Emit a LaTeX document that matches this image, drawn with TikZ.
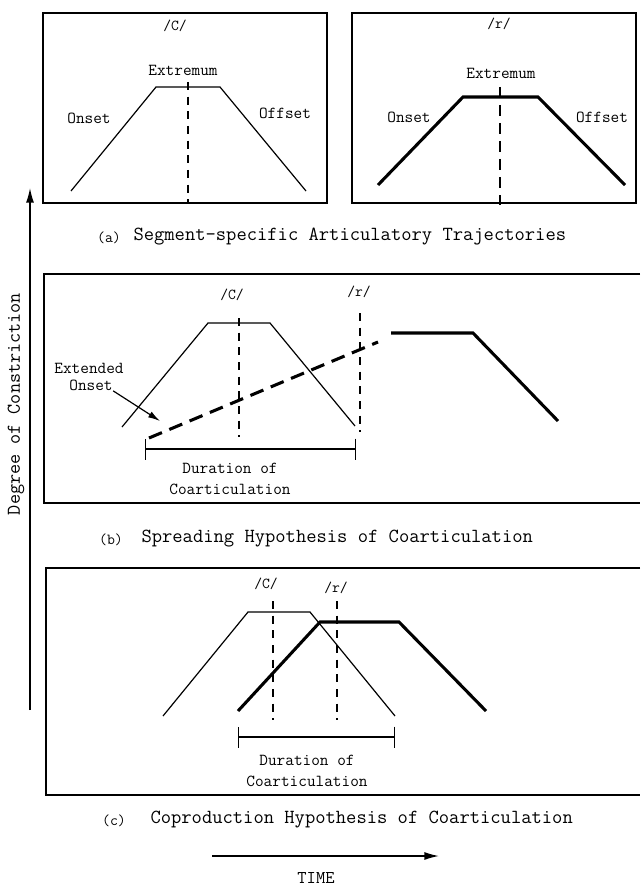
\documentclass[tikz,border=0pt]{standalone}
\usetikzlibrary{arrows.meta}

\tikzset{every picture/.style={line width=0.75pt}}

\begin{document}
\begin{tikzpicture}[x=0.75pt,y=0.75pt,yscale=-1,xscale=1,
    panel/.style={line width=1.1pt},
    trace/.style={line width=0.9pt},
    heavy/.style={line width=2.3pt},
    guide/.style={line width=0.9pt, dash pattern={on 6pt off 5pt}},
    spread/.style={line width=2.3pt, dash pattern={on 10.5pt off 6pt}},
    lab/.style={inner sep=0pt, font=\ttfamily\fontsize{12.6}{12.8}\selectfont},
    seg/.style={inner sep=0pt, font=\ttfamily\fontsize{11.4}{12}\selectfont},
    dur/.style={inner sep=0pt, align=center, font=\ttfamily\fontsize{12.6}{16}\selectfont},
    captext/.style={inner sep=0pt, anchor=west, font=\ttfamily\fontsize{15}{16}\selectfont},
    tag/.style={inner sep=0pt, font=\ttfamily\fontsize{11.5}{12}\selectfont},
    bigarrow/.style={line width=1.1pt, -{Latex[length=11pt,width=6pt]}},
    durspan/.style={trace, {Bar[width=15.75pt]}-{Bar[width=15.75pt]}}]
    \useasboundingbox (0,0) rectangle (640,888);

    %Shape: Rectangle /C/ panel
    \draw [panel] (43,13) rectangle (327,203) ;
    %Shape: Rectangle /r/ panel
    \draw [panel] (352,13) rectangle (636,203) ;
    %Shape: open panel (b)
    \draw [panel] (640,274) -- (44,274) -- (44,503) -- (640,503) ;
    %Shape: open panel (c)
    \draw [panel] (640,568) -- (46,568) -- (46,795) -- (640,795) ;

    %Curve Lines /C/ alone
    \draw [trace] (71,191) -- (156,87) -- (220,87) -- (306,191) ;
    \draw [guide] (188,82) -- (188,202) ;
    %Curve Lines /r/ alone
    \draw [heavy] (378,185) -- (463,97) -- (538,97) -- (625,185) ;
    \draw [guide, dash pattern={on 8.5pt off 5pt}] (500,87) -- (500,205) ;

    % Text Node
    \node [seg] (segC) at (175,26) {/C/};
    \node [seg] (segR) at (499,24) {/r/};
    \node [lab] (extC) at (183,70) {Extremum};
    \node [lab] (onC) at (89,118) {Onset};
    \node [lab] (offC) at (285,113) {Offset};
    \node [lab] (extR) at (501,73) {Extremum};
    \node [lab] (onR) at (409,117) {Onset};
    \node [lab] (offR) at (602,117) {Offset};
    \node [tag] (tagA) at (109,238) {(a)};
    \node [captext] (capA) at (133,237) {Segment-specific Articulatory Trajectories};

    %Curve Lines spreading
    \draw [trace] (122,427) -- (208,323) -- (270,323) -- (355,426) ;
    \draw [guide] (239,318) -- (239,437) ;
    \draw [guide] (360,313) -- (360,432) ;
    \draw [spread] (149,438) -- (378,342) ;
    \draw [heavy] (391,333) -- (473,333) -- (558,421) ;

    % Text Node
    \node [seg] (segCb) at (232,295) {/C/};
    \node [seg] (segRb) at (359,292) {/r/};
    \node [lab] (extOnA) at (89,368) {Extended};
    \node [lab] (extOnB) at (91,385) {Onset};
    \coordinate (extTip) at (160,421);
    \draw [trace, -{Latex[length=9pt,width=5pt]}] (extOnB.south east) -- (extTip) ;
    \coordinate (durBL) at (145,449);
    \coordinate (durBR) at (356,449);
    \draw [durspan] (durBL) -- (durBR) ;
    \node [dur] (durB) at (230,479) {Duration of\\Coarticulation};
    \node [tag] (tagB) at (111,540) {(b)};
    \node [captext] (capB) at (141,539) {Spreading Hypothesis of Coarticulation};

    %Curve Lines coproduction
    \draw [trace] (163,716) -- (248,612) -- (310,612) -- (395,716) ;
    \draw [heavy] (238,711) -- (320,622) -- (399,622) -- (486,711) ;
    \draw [guide] (273,601) -- (273,720) ;
    \draw [guide] (337,601) -- (337,720) ;

    % Text Node
    \node [seg] (segCc) at (266,584) {/C/};
    \node [seg] (segRc) at (336,588) {/r/};
    \coordinate (durCL) at (238,737);
    \coordinate (durCR) at (395,737);
    \draw [durspan] (durCL) -- (durCR) ;
    \node [dur] (durC) at (307,771) {Duration of\\Coarticulation};
    \node [tag] (tagC) at (114,821) {(c)};
    \node [captext] (capC) at (150,820) {Coproduction Hypothesis of Coarticulation};

    %Straight Lines axes
    \coordinate (axisFoot) at (30,710);
    \coordinate (axisTip) at (30,188);
    \draw [bigarrow] (axisFoot) -- (axisTip) ;
    \node [inner sep=0pt, rotate=90, font=\ttfamily\fontsize{14.7}{16}\selectfont] (axisLab) at (16,404) {Degree of Constriction};
    \coordinate (timeFoot) at (212,856);
    \coordinate (timeTip) at (439,856);
    \draw [bigarrow] (timeFoot) -- (timeTip) ;
    \node [inner sep=0pt, font=\ttfamily\fontsize{13.5}{14}\selectfont] (timeLab) at (316,878) {TIME};

\end{tikzpicture}
\end{document}
